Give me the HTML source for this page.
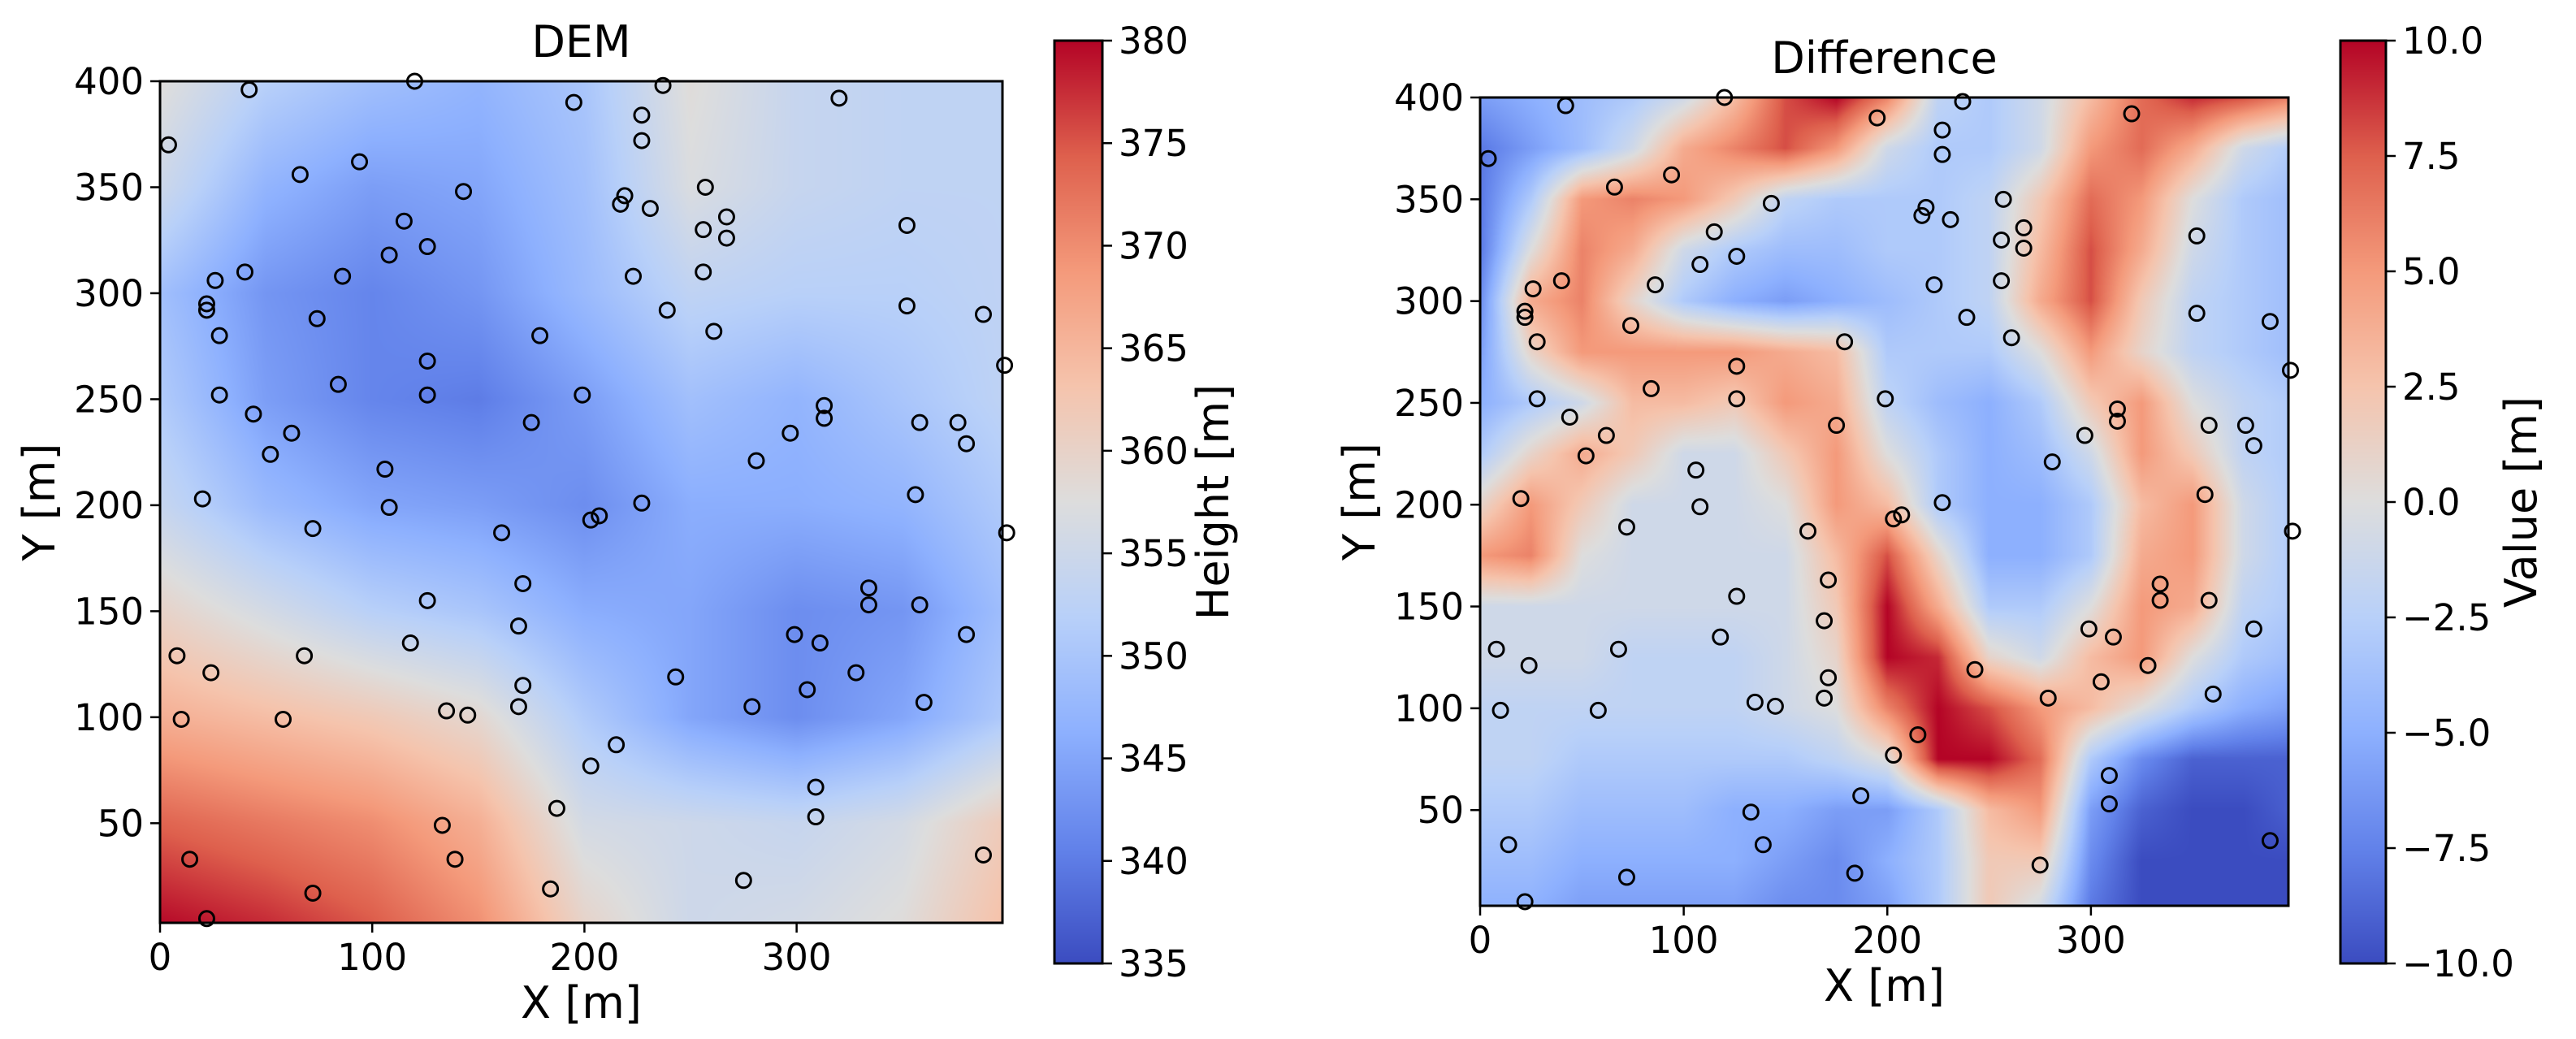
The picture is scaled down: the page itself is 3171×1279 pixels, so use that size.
<!DOCTYPE html>
<html><head><meta charset="utf-8">
<style>
html,body{margin:0;padding:0;background:#fff;}
#wrap{position:relative;width:3171px;height:1279px;overflow:hidden;}
canvas,svg{position:absolute;left:0;top:0;}
text{font-family:"DejaVu Sans","Liberation Sans",sans-serif;fill:#000;}
</style></head>
<body>
<div id="wrap">
<canvas id="c1"></canvas>
<canvas id="c2"></canvas>
<canvas id="cb1"></canvas>
<canvas id="cb2"></canvas>
<svg id="svg" width="3171" height="1279"></svg>
</div>
<script>
// ---- data ----
const gridX = [0,25,50,75,100,125,150,175,200,225,250,275,300,325,350,375,400];
const gridYTopDown = [400,375,350,325,300,275,250,225,200,175,150,125,100,75,50,25,0];
const demGridX = [0,50,100,150,200,250,300,350,400];
const demGridY = [400,350,300,250,200,150,100,50,0];
const demValues = [
[358,352,349,347,350,358,354,353,353],
[355,347,344,345,349,357,354,353,353],
[349,343,341,343,348,353,352,352,353],
[351,344,341,340,344,349,347,350,353],
[354,348,345,344,342,346,346,347,351],
[360,356,352,350,346,345,342,343,349],
[366,364,362,359,351,345,342,345,351],
[374,372,370,366,356,355,354,356,362],
[380,378,375,370,360,355,356,358,364]
];
const diffValues = [
[-6,-5,-4,-3,-1,3,8,10,6,-2,-3,-1,3,7,9,8,6],
[-8,-6,-4,-1,4,6,8,5,-1,-3,-3,-1,5,7,4,-1,-3],
[-8,-3,5,6,5,2,-2,-3,-3,-3,-2,2,7,5,0,-3,-4],
[-8,0,6,4,-1,-3,-4,-4,-3,-3,-2,3,8,4,-1,-3,-4],
[-7,4,6,1,-3,-5,-6,-5,-4,-3,-2,4,8,2,-2,-3,-4],
[-6,1,5,5,5,5,4,3,-3,-3,-3,0,5,1,-2,-3,-4],
[-5,-3,-1,3,3,2,5,4,-2,-4,-5,-3,2,5,0,-2,-3],
[-3,1,4,2,-1,-1,2,5,0,-3,-5,-4,-1,5,2,-2,-3],
[1,5,2,-1,-1,-1,0,5,3,-3,-5,-5,-3,3,5,-1,-3],
[5,6,0,-1,-1,-1,-1,3,8,1,-5,-5,-3,4,5,-1,-3],
[-1,-1,-1,-1,-1,-1,-1,2,10,4,-3,-3,0,5,4,-2,-3],
[-1,-1,-1,-2,-2,-2,-1,1,10,9,1,-1,3,5,0,-3,-4],
[-2,-2,-2,-2,-2,-2,-1,0,6,10,8,5,3,0,-3,-5,-6],
[-2,-2,-3,-3,-3,-3,-3,-2,0,10,10,7,-3,-7,-9,-9,-9],
[-3,-3,-4,-4,-4,-5,-5,-6,-6,-3,3,5,-6,-9,-10,-10,-9],
[-4,-4,-5,-5,-5,-5,-6,-7,-5,-3,2,2,-7,-10,-10,-10,-10],
[-5,-5,-6,-6,-6,-6,-7,-7,-6,-3,2,-1,-8,-10,-10,-10,-10]
];
const pointsX = [4,42,120,195,237,320,227,227,94,66,257,143,219,217,231,267,352,115,256,267,126,108,40,256,86,223,26,22,22,352,239,74,388,261,28,179,126,398,84,28,126,199,313,313,175,358,376,44,297,62,380,52,281,106,356,20,227,108,207,203,72,161,399,171,334,334,358,126,169,299,380,118,311,8,68,24,328,243,171,305,360,169,279,135,145,10,58,215,203,309,187,309,133,14,139,388,72,184,275,22];
const pointsY = [370,396,400,390,398,392,384,372,362,356,350,348,346,342,340,336,332,334,330,326,322,318,310,310,308,308,306,295,292,294,292,288,290,282,280,280,268,266,257,252,252,252,247,241,239,239,239,243,234,234,229,224,221,217,205,203,201,199,195,193,189,187,187,163,161,153,153,155,143,139,139,135,135,129,129,121,121,119,115,113,107,105,105,103,101,99,99,87,77,67,57,53,49,33,33,35,17,19,23,5];
const yTicks = [50,100,150,200,250,300,350,400];
const xTicks = [0,100,200,300];
const demCbTicks = [335,340,345,350,355,360,365,370,375,380];
const diffCbTicks = [-10,-7.5,-5,-2.5,0,2.5,5,7.5,10];

// ---- colormap ----
const CM=[[59,76,192],[98,130,234],[141,176,254],[184,208,249],[221,221,221],[245,196,173],[244,154,123],[222,96,77],[180,4,38]];
function cmap(t){t=Math.max(0,Math.min(1,t));const s=t*8;const i=Math.min(7,Math.floor(s));const f=s-i;const a=CM[i],b=CM[i+1];return [a[0]+(b[0]-a[0])*f,a[1]+(b[1]-a[1])*f,a[2]+(b[2]-a[2])*f];}

function sample(gx,gy,vals,x,y){
  let i=0;while(i<gx.length-2&&x>gx[i+1])i++;
  let j=0;while(j<gy.length-2&&y<gy[j+1])j++;
  const fx=Math.max(0,Math.min(1,(x-gx[i])/(gx[i+1]-gx[i])));
  const fy=Math.max(0,Math.min(1,(gy[j]-y)/(gy[j]-gy[j+1])));
  const v00=vals[j][i],v10=vals[j][i+1],v01=vals[j+1][i],v11=vals[j+1][i+1];
  return v00*(1-fx)*(1-fy)+v10*fx*(1-fy)+v01*(1-fx)*fy+v11*fx*fy;
}

const XMIN=0,XMAX=397,YMIN=3,YMAX=400;
const P1={l:197,t:100,r:1234,b:1136,cbl:1298,cbr:1357,cbt:50,cbb:1186,vmin:335,vmax:380,cbLab:155};
const P2={l:1822,t:120,r:2817,b:1115,cbl:2881,cbr:2937,cbt:50,cbb:1186,vmin:-10,vmax:10,cbLab:185};

function drawHeat(id,P,gx,gy,vals){
  const c=document.getElementById(id);const w=P.r-P.l,h=P.b-P.t;
  c.width=w;c.height=h;c.style.left=P.l+'px';c.style.top=P.t+'px';
  const ctx=c.getContext('2d');const img=ctx.createImageData(w,h);
  for(let py=0;py<h;py++){const y=YMAX-(py+0.5)/h*(YMAX-YMIN);
    for(let px=0;px<w;px++){const x=XMIN+(px+0.5)/w*(XMAX-XMIN);
      const v=sample(gx,gy,vals,x,y);const col=cmap((v-P.vmin)/(P.vmax-P.vmin));
      const k=(py*w+px)*4;img.data[k]=col[0];img.data[k+1]=col[1];img.data[k+2]=col[2];img.data[k+3]=255;}}
  ctx.putImageData(img,0,0);
}
function drawCb(id,P){
  const c=document.getElementById(id);const w=P.cbr-P.cbl,h=P.cbb-P.cbt;
  c.width=w;c.height=h;c.style.left=P.cbl+'px';c.style.top=P.cbt+'px';
  const ctx=c.getContext('2d');
  for(let py=0;py<h;py++){const col=cmap(1-(py+0.5)/h);ctx.fillStyle='rgb('+col.map(Math.round).join(',')+')';ctx.fillRect(0,py,w,1);}
}
drawHeat('c1',P1,demGridX,demGridY,demValues);
drawHeat('c2',P2,gridX,gridYTopDown,diffValues);
drawCb('cb1',P1);drawCb('cb2',P2);

const NS='http://www.w3.org/2000/svg';const svg=document.getElementById('svg');
function el(tag,attrs,parent){const e=document.createElementNS(NS,tag);for(const k in attrs)e.setAttribute(k,attrs[k]);(parent||svg).appendChild(e);return e;}
function txt(s,attrs){const e=el('text',attrs);e.textContent=s;return e;}
function fmt(v){return (v<0?'\u2212':'')+Math.abs(v).toFixed(1);}

const TF=45, LF=54;
function axes(P,title,cbLabel,cbTicks,cbFmt,prefix){
  const sx=x=>P.l+(x-XMIN)/(XMAX-XMIN)*(P.r-P.l);
  const sy=y=>P.b-(y-YMIN)/(YMAX-YMIN)*(P.b-P.t);
  const g=el('g',{});
  
  
  for(let i=0;i<pointsX.length;i++){
    const c=el('circle',{cx:sx(pointsX[i]),cy:sy(pointsY[i]),r:9,fill:'none',stroke:'#000','stroke-width':3},g);
    
    
  }
  const fr=el('rect',{x:P.l,y:P.t,width:P.r-P.l,height:P.b-P.t,fill:'none',stroke:'#000','stroke-width':3});
  
  
  for(const v of yTicks){const y=sy(v);el('line',{x1:P.l-12,x2:P.l,y1:y,y2:y,stroke:'#000','stroke-width':2.5});
    const t=txt(String(v),{x:P.l-20,y:y+16,'font-size':TF,'text-anchor':'end'});
    
    }
  for(const v of xTicks){const x=sx(v);el('line',{x1:x,x2:x,y1:P.b,y2:P.b+12,stroke:'#000','stroke-width':2.5});
    const t=txt(String(v),{x:x,y:P.b+58,'font-size':TF,'text-anchor':'middle'});
    
    }
  const cx=(P.l+P.r)/2,cy=(P.t+P.b)/2;
  const tt=txt(title,{x:cx,y:P.t-30,'font-size':LF,'text-anchor':'middle'});
  
  
  const xl=txt('X [m]',{x:cx,y:P.b+117,'font-size':LF,'text-anchor':'middle'});
  
  
  const yl=txt('Y [m]',{x:0,y:0,'font-size':LF,'text-anchor':'middle',transform:'translate('+(P.l-130)+','+cy+') rotate(-90)'});
  
  
  const cf=el('rect',{x:P.cbl,y:P.cbt,width:P.cbr-P.cbl,height:P.cbb-P.cbt,fill:'none',stroke:'#000','stroke-width':3});
  
  
  for(const v of cbTicks){const y=P.cbb-(v-P.vmin)/(P.vmax-P.vmin)*(P.cbb-P.cbt);
    el('line',{x1:P.cbr,x2:P.cbr+12,y1:y,y2:y,stroke:'#000','stroke-width':2.5});
    const t=txt(cbFmt(v),{x:P.cbr+20,y:y+16,'font-size':TF,'text-anchor':'start'});
    
    }
  const ccy=(P.cbt+P.cbb)/2;
  const cl=txt(cbLabel,{x:0,y:0,'font-size':LF,'text-anchor':'middle',transform:'translate('+(P.cbr+P.cbLab)+','+ccy+') rotate(-90)'});
  
  
}
axes(P1,'DEM','Height [m]',demCbTicks,v=>String(v),'dem');
axes(P2,'Difference','Value [m]',diffCbTicks,fmt,'difference');
</script>
</body></html>
